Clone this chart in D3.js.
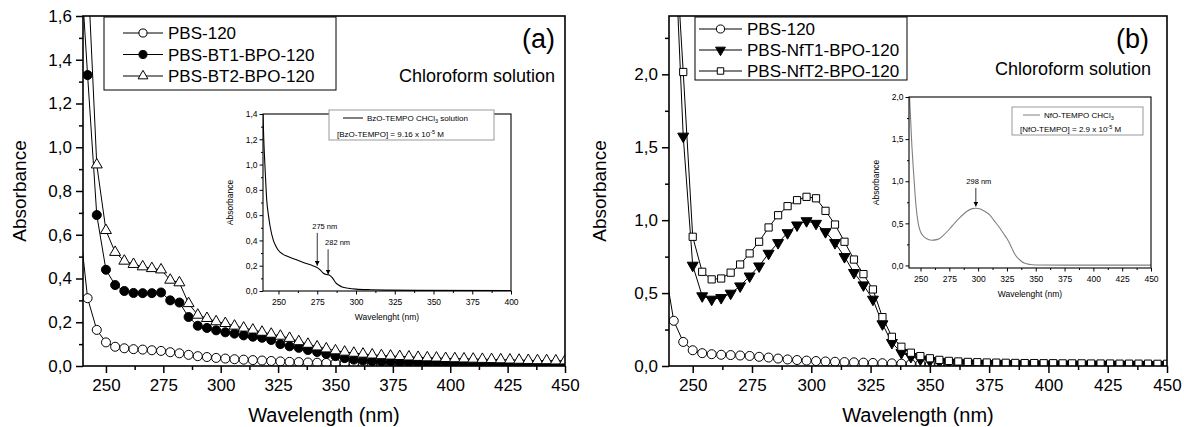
<!DOCTYPE html>
<html>
<head>
<meta charset="utf-8">
<style>
body, html {
	margin: 0;
	background: #fff;
}
svg {
	display: block;
	font-family: "Liberation Sans", Arial, sans-serif;
}
</style>
</head>
<body>
<div id="chart"></div>

<script src="https://cdn.jsdelivr.net/npm/d3@7"></script>
<script>

const WIDTH = 1184;
const HEIGHT = 427;

// marked points every 4 nm; 238 nm is only a lead-in that sits outside the frame
const wavelengths = d3.range(238, 451, 4);

const pbs120 = [0.70, 0.31, 0.165, 0.108, 0.088, 0.081, 0.077, 0.075, 0.072, 0.069,
	0.063, 0.058, 0.051, 0.045, 0.041, 0.037, 0.034, 0.031, 0.029, 0.027,
	0.025, 0.023, 0.021, 0.019, 0.018, 0.016, 0.015, 0.014, 0.013, 0.012,
	0.011, 0.011, 0.010, 0.010, 0.009, 0.009, 0.008, 0.008, 0.008, 0.007,
	0.007, 0.007, 0.006, 0.006, 0.006, 0.006, 0.005, 0.005, 0.005, 0.005,
	0.005, 0.004, 0.004, 0.004];

const pbsBT1 = [2.0, 1.33, 0.69, 0.44, 0.37, 0.343, 0.334, 0.333, 0.333, 0.336,
	0.30, 0.29, 0.224, 0.184, 0.174, 0.163, 0.154, 0.148, 0.140, 0.134,
	0.129, 0.119, 0.100, 0.090, 0.083, 0.073, 0.064, 0.055, 0.045, 0.036,
	0.029, 0.025, 0.022, 0.020, 0.019, 0.018, 0.017, 0.016, 0.016, 0.015,
	0.015, 0.015, 0.014, 0.014, 0.014, 0.013, 0.013, 0.013, 0.013, 0.012,
	0.012, 0.012, 0.012, 0.012];

const pbsBT2 = [3.0, 1.83, 0.92, 0.62, 0.52, 0.48, 0.465, 0.454, 0.446, 0.440,
	0.393, 0.381, 0.286, 0.233, 0.218, 0.203, 0.195, 0.183, 0.174, 0.165,
	0.155, 0.146, 0.137, 0.127, 0.112, 0.100, 0.088, 0.079, 0.070, 0.064,
	0.059, 0.055, 0.051, 0.048, 0.046, 0.044, 0.042, 0.040, 0.038, 0.037,
	0.035, 0.034, 0.033, 0.032, 0.031, 0.030, 0.029, 0.028, 0.027, 0.026,
	0.025, 0.025, 0.024, 0.024];

const pbsNfT1 = [5.0, 3.07, 1.575, 0.69, 0.48, 0.457, 0.468, 0.498, 0.548, 0.616,
	0.685, 0.772, 0.845, 0.913, 0.966, 0.995, 0.977, 0.92, 0.845, 0.749,
	0.64, 0.555, 0.457, 0.288, 0.16, 0.091, 0.064, 0.046, 0.036, 0.029,
	0.024, 0.021, 0.019, 0.017, 0.016, 0.015, 0.014, 0.014, 0.013, 0.013,
	0.012, 0.012, 0.012, 0.011, 0.011, 0.011, 0.010, 0.010, 0.010, 0.010,
	0.009, 0.009, 0.009, 0.009];

const pbsNfT2 = [5.0, 3.1, 2.016, 0.886, 0.646, 0.594, 0.600, 0.640, 0.696, 0.772,
	0.852, 0.950, 1.034, 1.096, 1.137, 1.160, 1.150, 1.064, 0.970, 0.852,
	0.730, 0.630, 0.525, 0.335, 0.200, 0.132, 0.091, 0.068, 0.053, 0.042,
	0.035, 0.031, 0.028, 0.026, 0.024, 0.023, 0.022, 0.021, 0.020, 0.020,
	0.019, 0.019, 0.018, 0.018, 0.018, 0.017, 0.017, 0.017, 0.016, 0.016,
	0.016, 0.016, 0.015, 0.015];

// inset spectra (plain lines)
const bzoWave = [240, 240.5, 241.3, 242.4, 243.5, 244.6, 246.7, 248.5, 250, 253,
	256.5, 262, 267.4, 271, 275, 277, 279, 281, 283, 285,
	287, 289, 291, 295, 300, 310, 320, 340, 400];
const bzoAbs = [1.40, 1.20, 0.98, 0.72, 0.60, 0.51, 0.40, 0.35, 0.32, 0.29,
	0.27, 0.245, 0.22, 0.205, 0.185, 0.165, 0.14, 0.13, 0.125, 0.10,
	0.065, 0.045, 0.032, 0.022, 0.015, 0.010, 0.007, 0.005, 0.004];

const nfoWave = [240.5, 242.2, 244.5, 246, 248, 250, 252.3, 255, 259.6, 265,
	270, 275, 280, 285, 290, 295, 298, 302, 306, 310,
	314, 318, 322, 325, 327, 329.4, 332, 335, 338, 340,
	345, 350, 375, 450];
const nfoAbs = [2.0, 1.5, 1.0, 0.72, 0.5, 0.40, 0.35, 0.32, 0.30, 0.31,
	0.36, 0.43, 0.51, 0.58, 0.64, 0.675, 0.68, 0.67, 0.64, 0.60,
	0.53, 0.46, 0.38, 0.32, 0.27, 0.20, 0.13, 0.08, 0.045, 0.03,
	0.012, 0.006, 0.004, 0.004];

const xMajorTicks = [250, 275, 300, 325, 350, 375, 400, 425, 450];


var svg = d3.select("#chart").append("svg")
	.attr("width", WIDTH)
	.attr("height", HEIGHT);
var defs = svg.append("defs");

defs.append("marker")
	.attr("id", "arrow")
	.attr("markerUnits", "userSpaceOnUse")
	.attr("viewBox", "0 0 10 10")
	.attr("refX", 10)
	.attr("refY", 5)
	.attr("markerWidth", 5)
	.attr("markerHeight", 5)
	.attr("orient", "auto")
	.append("path")
		.attr("d", "M0,0 L10,5 L0,10 z")
		.attr("fill", "#000");

function commaFmt(d) {
	return d3.format(".1f")(d).replace(".", ",");
}

function symbolPath(kind, size) {
	if (kind == "square") return d3.symbol(d3.symbolSquare, size)();
	if (kind == "triangle" || kind == "triangleDown") return d3.symbol(d3.symbolTriangle, size)();
	return d3.symbol(d3.symbolCircle, size)();
}

function drawMarker(sel, s, size) {
	sel.attr("d", symbolPath(s.marker, size))
		.attr("fill", s.filled ? "#000" : "#fff")
		.attr("stroke", "#000")
		.attr("stroke-width", 1);
}

function markerTransform(s, px, py) {
	// d3 triangle is centred on its centroid; nudge it a bit
	if (s.marker == "triangleDown") return `translate(${px},${py}) rotate(180)`;
	return `translate(${px},${py})`;
}

function axes(g, x, y, o) {
	const bottom = y.range()[0];
	const left = x.range()[0];

	g.append("g")
		.attr("transform", `translate(0,${bottom})`)
		.call(d3.axisBottom(x).tickValues(o.xMinor).tickSize(o.minorLen).tickFormat(""))
		.call(a => a.select(".domain").remove());
	g.append("g")
		.attr("transform", `translate(0,${bottom})`)
		.call(d3.axisBottom(x).tickValues(o.xMajor).tickSize(o.majorLen).tickPadding(o.xPad).tickFormat(d3.format("d")))
		.call(a => a.select(".domain").remove())
		.call(a => a.selectAll("text").attr("font-size", o.fontSize).attr("font-family", null).attr("fill", "#000"));

	g.append("g")
		.attr("transform", `translate(${left},0)`)
		.call(d3.axisLeft(y).tickValues(o.yMinor).tickSize(o.minorLen).tickFormat(""))
		.call(a => a.select(".domain").remove());
	g.append("g")
		.attr("transform", `translate(${left},0)`)
		.call(d3.axisLeft(y).tickValues(o.yMajor).tickSize(o.majorLen).tickPadding(o.yPad).tickFormat(commaFmt))
		.call(a => a.select(".domain").remove())
		.call(a => a.selectAll("text").attr("font-size", o.fontSize).attr("font-family", null).attr("fill", "#000"));

	g.selectAll(".tick line").attr("stroke", "#000").attr("stroke-width", o.stroke);
}

function drawPanel(p) {
	const x = d3.scaleLinear().domain([240, 450]).range([p.left, p.right]);
	const y = d3.scaleLinear().domain([0, p.yMax]).range([p.bottom, p.top]);
	const g = svg.append("g").attr("class", "panel");

	defs.append("clipPath").attr("id", "clip-" + p.name)
		.append("rect")
			.attr("x", p.left)
			.attr("y", p.top)
			.attr("width", p.right - p.left)
			.attr("height", p.bottom - p.top);

	axes(g, x, y, {
		xMajor: xMajorTicks,
		xMinor: d3.range(262.5, 450, 25),
		yMajor: p.yMajor,
		yMinor: p.yMinor,
		majorLen: 7, minorLen: 4,
		xPad: 6, yPad: 4,
		fontSize: "17px", stroke: 1.5
	});

	const plot = g.append("g").attr("clip-path", `url(#clip-${p.name})`);
	const line = d3.line().x(d => x(d[0])).y(d => y(d[1]));

	p.series.forEach(function(s) {
		const pts = wavelengths.map((w, i) => [w, s.values[i]]);
		plot.append("path")
			.datum(pts)
			.attr("d", line)
			.attr("fill", "none")
			.attr("stroke", "#000")
			.attr("stroke-width", 1);
		plot.append("g").selectAll("path")
			.data(pts)
			.join("path")
				.attr("transform", d => markerTransform(s, x(d[0]), y(d[1])))
				.call(drawMarker, s, s.size);
	});

	// frame
	g.append("rect")
		.attr("x", p.left)
		.attr("y", p.top)
		.attr("width", p.right - p.left)
		.attr("height", p.bottom - p.top)
		.attr("fill", "none")
		.attr("stroke", "#000")
		.attr("stroke-width", 1.6);

	// legend
	const L = p.legend;
	g.append("rect")
		.attr("x", L.x).attr("y", L.y)
		.attr("width", L.w).attr("height", L.h)
		.attr("fill", "#fff")
		.attr("stroke", "#000")
		.attr("stroke-width", 1);
	p.series.forEach(function(s, i) {
		const cy = L.y + L.first + i * L.step;
		g.append("line")
			.attr("x1", L.lineX0).attr("x2", L.lineX1)
			.attr("y1", cy).attr("y2", cy)
			.attr("stroke", "#000")
			.attr("stroke-width", 1);
		g.append("path")
			.attr("transform", markerTransform(s, (L.lineX0 + L.lineX1) / 2, cy))
			.call(drawMarker, s, s.size * 0.8);
		g.append("text")
			.attr("x", L.lineX1 + 5)
			.attr("y", cy + 6)
			.attr("font-size", "17px")
			.text(s.name);
	});

	g.append("text")
		.attr("x", p.tagX).attr("y", 48)
		.attr("text-anchor", "end")
		.attr("font-size", "27px")
		.text(p.tag);
	g.append("text")
		.attr("x", p.tagX + p.solventDx).attr("y", p.solventY)
		.attr("text-anchor", "end")
		.attr("font-size", "18px")
		.text("Chloroform solution");

	g.append("text")
		.attr("x", (p.left + p.right) / 2)
		.attr("y", 422)
		.attr("text-anchor", "middle")
		.attr("font-size", "20px")
		.text("Wavelength (nm)");
	g.append("text")
		.attr("transform", `translate(${p.yTitleX},${(p.top + p.bottom) / 2}) rotate(-90)`)
		.attr("text-anchor", "middle")
		.attr("font-size", "19px")
		.text("Absorbance");
}

function drawInset(p) {
	const x = d3.scaleLinear().domain(p.xDomain).range([p.left, p.right]);
	const y = d3.scaleLinear().domain(p.yDomain).range([p.bottom, p.top]);
	const g = svg.append("g").attr("class", "inset");

	defs.append("clipPath").attr("id", "clip-" + p.name)
		.append("rect")
			.attr("x", p.left)
			.attr("y", p.top)
			.attr("width", p.right - p.left)
			.attr("height", p.bottom - p.top);

	axes(g, x, y, {
		xMajor: p.xMajor,
		xMinor: p.xMinor,
		yMajor: p.yMajor,
		yMinor: p.yMinor,
		majorLen: 3.5, minorLen: 2,
		xPad: 4, yPad: 2,
		fontSize: "8.5px", stroke: 1
	});

	const line = d3.line().curve(d3.curveMonotoneX).x(d => x(d[0])).y(d => y(d[1]));
	g.append("path")
		.datum(p.wave.map((w, i) => [w, p.abs[i]]))
		.attr("clip-path", `url(#clip-${p.name})`)
		.attr("d", line)
		.attr("fill", "none")
		.attr("stroke", p.color)
		.attr("stroke-width", 1.1);

	g.append("rect")
		.attr("x", p.left)
		.attr("y", p.top)
		.attr("width", p.right - p.left)
		.attr("height", p.bottom - p.top)
		.attr("fill", "none")
		.attr("stroke", "#000")
		.attr("stroke-width", 1.1);

	// legend box with the sample description
	const L = p.legend;
	g.append("rect")
		.attr("x", L.x).attr("y", L.y)
		.attr("width", L.w).attr("height", L.h)
		.attr("fill", "#fff")
		.attr("stroke", "#999")
		.attr("stroke-width", 1);
	g.append("line")
		.attr("x1", L.lineX0).attr("x2", L.lineX1)
		.attr("y1", L.y + 8).attr("y2", L.y + 8)
		.attr("stroke", p.color)
		.attr("stroke-width", 1);
	const t1 = g.append("text")
		.attr("x", L.lineX1 + 4)
		.attr("y", L.y + 11)
		.attr("font-size", "8px");
	t1.append("tspan").text(L.name + " CHCl");
	t1.append("tspan").attr("font-size", "5.5px").attr("dy", 2).text("3");
	if (L.suffix) t1.append("tspan").attr("dy", -2).text(" " + L.suffix);

	const t2 = g.append("text")
		.attr("x", L.x + L.conX)
		.attr("y", L.y + L.conY)
		.attr("font-size", "8px");
	t2.append("tspan").text(`[${L.name}] = ${L.conc} x 10`);
	t2.append("tspan").attr("font-size", "5.5px").attr("dy", -3).text("-5");
	t2.append("tspan").attr("dy", 3).text(" M");

	// peak annotations
	p.notes.forEach(function(n) {
		g.append("line")
			.attr("x1", x(n.at)).attr("x2", x(n.at))
			.attr("y1", y(n.from)).attr("y2", y(n.to))
			.attr("stroke", "#000")
			.attr("stroke-width", 0.8)
			.attr("marker-end", "url(#arrow)");
		g.append("text")
			.attr("x", x(n.at) + n.dx)
			.attr("y", y(n.from) - 4)
			.attr("text-anchor", n.anchor)
			.attr("font-size", "7.5px")
			.text(n.label);
	});

	g.append("text")
		.attr("x", (p.left + p.right) / 2)
		.attr("y", p.bottom + 29)
		.attr("text-anchor", "middle")
		.attr("font-size", "8.5px")
		.text("Wavelenght (nm)");
	g.append("text")
		.attr("transform", `translate(${p.left - 30},${(p.top + p.bottom) / 2}) rotate(-90)`)
		.attr("text-anchor", "middle")
		.attr("font-size", "8.5px")
		.text("Absorbance");
}


drawPanel({
	name: "a",
	left: 83, right: 565, top: 16, bottom: 366,
	yMax: 1.6,
	yMajor: d3.range(0, 1.61, 0.2),
	yMinor: d3.range(0.1, 1.6, 0.2),
	yTitleX: 26,
	tag: "(a)", tagX: 555, solventDx: 0, solventY: 82,
	legend: { x: 104, y: 17, w: 232, h: 73, first: 16, step: 21.5, lineX0: 123, lineX1: 163 },
	series: [
		{ name: "PBS-120", values: pbs120, marker: "circle", filled: false, size: 64 },
		{ name: "PBS-BT1-BPO-120", values: pbsBT1, marker: "circle", filled: true, size: 64 },
		{ name: "PBS-BT2-BPO-120", values: pbsBT2, marker: "triangle", filled: false, size: 52 }
	]
});

drawPanel({
	name: "b",
	left: 669, right: 1167, top: 16, bottom: 366,
	yMax: 2.4,
	yMajor: d3.range(0, 2.01, 0.5),
	yMinor: d3.range(0.25, 2.4, 0.5),
	yTitleX: 606,
	tag: "(b)", tagX: 1149, solventDx: 2, solventY: 75,
	legend: { x: 695, y: 17, w: 212, h: 63, first: 12, step: 21, lineX0: 699, lineX1: 742 },
	series: [
		{ name: "PBS-120", values: pbs120, marker: "circle", filled: false, size: 64 },
		{ name: "PBS-NfT1-BPO-120", values: pbsNfT1, marker: "triangleDown", filled: true, size: 52 },
		{ name: "PBS-NfT2-BPO-120", values: pbsNfT2, marker: "square", filled: false, size: 52 }
	]
});

drawInset({
	name: "ia",
	left: 263, right: 511, top: 114, bottom: 291,
	xDomain: [240, 400], yDomain: [0, 1.4],
	xMajor: [250, 275, 300, 325, 350, 375, 400],
	xMinor: d3.range(262.5, 400, 25),
	yMajor: d3.range(0, 1.41, 0.2),
	yMinor: d3.range(0.1, 1.4, 0.2),
	wave: bzoWave, abs: bzoAbs, color: "#000",
	legend: { x: 329, y: 110, w: 165, h: 30, lineX0: 343, lineX1: 363,
		name: "BzO-TEMPO", suffix: "solution", conc: "9.16", conX: 8, conY: 27 },
	notes: [
		{ at: 275, from: 0.46, to: 0.2, label: "275 nm", dx: -5, anchor: "start" },
		{ at: 282, from: 0.33, to: 0.13, label: "282 nm", dx: -3, anchor: "start" }
	]
});

drawInset({
	name: "ib",
	left: 909, right: 1151, top: 97, bottom: 268,
	xDomain: [240, 450], yDomain: [-0.03, 2.0],
	xMajor: xMajorTicks,
	xMinor: d3.range(262.5, 450, 25),
	yMajor: d3.range(0, 2.01, 0.5),
	yMinor: d3.range(0.25, 2.0, 0.5),
	wave: nfoWave, abs: nfoAbs, color: "#808080",
	legend: { x: 1012, y: 107, w: 131, h: 28, lineX0: 1023, lineX1: 1040,
		name: "NfO-TEMPO", suffix: "", conc: "2.9", conX: 8, conY: 25 },
	notes: [
		{ at: 298, from: 0.92, to: 0.7, label: "298 nm", dx: 3, anchor: "middle" }
	]
});

</script>
</body>
</html>
